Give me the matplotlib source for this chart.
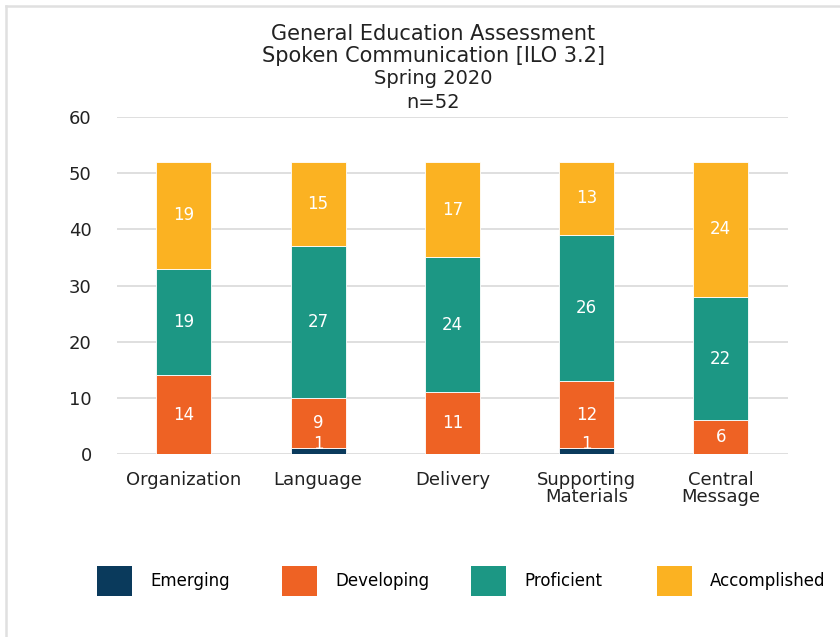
import matplotlib
matplotlib.use("Agg")
import matplotlib.pyplot as plt
from matplotlib.lines import Line2D
from matplotlib.patches import Patch
import numpy as np

categories = ["Organization", "Language", "Delivery", "Supporting\nMaterials", "Central\nMessage"]
levels = ["Emerging", "Developing", "Proficient", "Accomplished"]
emerging = [0, 1, 0, 1, 0]
developing = [14, 9, 11, 12, 6]
proficient = [19, 27, 24, 26, 22]
accomplished = [19, 15, 17, 13, 24]
colors = ["#0a3a5c", "#ee6224", "#1c9784", "#fbb222"]

FONT = ["DejaVu Sans"]
TXT = "#222222"

fig = plt.figure(figsize=(8.4, 6.37), dpi=100)
ax = fig.add_axes([0.139, 0.2873, 0.799, 0.529])

x = np.arange(len(categories))
bottom = np.zeros(len(categories))
for name, vals, col in zip(levels, [emerging, developing, proficient, accomplished], colors):
    vals = np.array(vals, dtype=float)
    ax.bar(x, vals, 0.41, bottom=bottom, color=col, label=name, zorder=3,
           edgecolor="white", linewidth=0.6)
    for xi, b, v in zip(x, bottom, vals):
        if v > 0:
            ax.text(xi, b + v / 2 + (1.2 if v < 3 else 0), f"{int(v)}", ha="center", va="center",
                    color="white", fontsize=12, family=FONT, zorder=4)
    bottom += vals

ax.set_xlim(-0.5, 4.5)
ax.set_ylim(0, 60)
ax.set_yticks(range(0, 61, 10))
ax.set_xticks(x)
ax.set_xticklabels(categories, fontsize=13, family=FONT, color=TXT, linespacing=0.95)
for lbl in ax.get_yticklabels():
    lbl.set_fontsize(13)
    lbl.set_family(FONT)
    lbl.set_color(TXT)
ax.tick_params(axis="y", length=0, pad=18)
ax.tick_params(axis="x", length=0, pad=12)
ax.grid(axis="y", color="#d9d9d9", linewidth=1.2, zorder=0)
for s in ax.spines.values():
    s.set_visible(False)

fig.text(0.516, 0.963, "General Education Assessment\nSpoken Communication [ILO 3.2]",
         ha="center", va="top", fontsize=15, family=FONT, color=TXT, linespacing=1.17)
fig.text(0.516, 0.891, "Spring 2020\nn=52", ha="center", va="top", fontsize=14,
         family=FONT, color=TXT, linespacing=1.28)

# one legend entry per fixed-width slot, like the original
slot_x = [97, 282, 471, 657]
for lev, col, sx in zip(levels, colors, slot_x):
    fig.legend([Patch(facecolor=col, edgecolor="none")], [lev], loc="center left",
               bbox_to_anchor=(sx / 840, 1 - 581 / 637), frameon=False,
               prop={"family": FONT, "size": 12}, borderpad=0, borderaxespad=0,
               handlelength=2.1, handleheight=2.4, handletextpad=1.1)

fig.add_artist(Line2D([0.007, 1.0], [0.99, 0.99], color="#e0e0e0", linewidth=1.8, transform=fig.transFigure))
fig.add_artist(Line2D([0.007, 0.007], [0.0, 0.99], color="#e0e0e0", linewidth=1.8, transform=fig.transFigure))

fig.savefig("out.png", dpi=100)
